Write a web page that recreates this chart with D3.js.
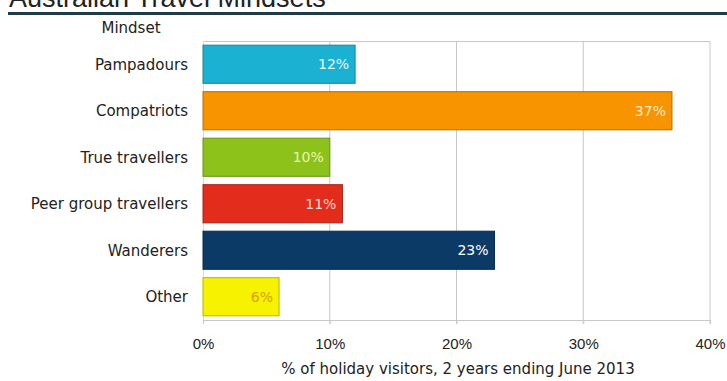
<!DOCTYPE html>
<html>
<head>
<meta charset="utf-8">
<script src="https://cdn.jsdelivr.net/npm/d3@7"></script>
<style>
  body { margin: 0; background: #fff; }
  svg { display: block; font-family: "DejaVu Sans", "Liberation Sans", sans-serif; }
</style>
</head>
<body>
<script>
// data
const categories = ["Pampadours", "Compatriots", "True travellers", "Peer group travellers", "Wanderers", "Other"];
const shares = [12, 37, 10, 11, 23, 6];
const barColors = ["#1bb1d2", "#f79400", "#8dc21a", "#e42c1c", "#0b3a66", "#f6f200"];
const labelColors = ["#e8f8ff", "#ffe9c4", "#e9f5b0", "#ffd8d0", "#ffffff", "#d4a400"];
const xTicks = [0, 10, 20, 30, 40];

const width = 727, height = 381;
const margin = { top: 41, right: 17, bottom: 61, left: 203 };

const svg = d3.select("body").append("svg")
    .attr("width", width)
    .attr("height", height);

// 标题（顶部被截断）
svg.append("text")
    .attr("x", 9).attr("y", 7)
    .attr("font-family", "Liberation Sans, Arial, sans-serif")
    .attr("font-size", 27)
    .attr("fill", "#222")
    .text("Australian Travel Mindsets");

svg.append("rect")
    .attr("x", 8).attr("y", 12)
    .attr("width", width - 8).attr("height", 3)
    .attr("fill", "#1d3c4a");

const x = d3.scaleLinear().domain([0, 40]).range([margin.left, width - margin.right]);
const y = d3.scaleBand().domain(categories).range([margin.top, height - margin.bottom]).paddingInner(0.18).paddingOuter(0.09);

const chart = svg.append("g").attr("class", "chart");

// 网格线
chart.append("g").selectAll("line").data(xTicks.slice(1)).join("line")
    .attr("x1", d => x(d)).attr("x2", d => x(d))
    .attr("y1", margin.top).attr("y2", height - margin.bottom + 4)
    .attr("stroke", "#c8c8c8");

chart.append("line")
    .attr("x1", x(0)).attr("x2", x(40))
    .attr("y1", margin.top + 0.5).attr("y2", margin.top + 0.5)
    .attr("stroke", "#c8c8c8");

// x轴
const gx = chart.append("g")
    .attr("transform", `translate(0,${height - margin.bottom})`)
    .call(d3.axisBottom(x).tickValues(xTicks).tickFormat(d => d + "%").tickSize(4).tickSizeOuter(0).tickPadding(14));
gx.select(".domain").attr("stroke", "#c8c8c8");
gx.selectAll(".tick line").attr("stroke", "#c8c8c8");
gx.selectAll(".tick text").attr("font-size", 15).attr("fill", "#222").attr("font-family", "inherit");

// y轴线
chart.append("line")
    .attr("x1", x(0) + 0.5).attr("x2", x(0) + 0.5)
    .attr("y1", margin.top).attr("y2", height - margin.bottom)
    .attr("stroke", "#d8d8d8");

// 柱
chart.append("g").selectAll("rect").data(categories).join("rect")
    .attr("x", x(0))
    .attr("y", d => y(d))
    .attr("width", (d, i) => x(shares[i]) - x(0))
    .attr("height", y.bandwidth())
    .attr("fill", (d, i) => barColors[i])
    .attr("stroke", (d, i) => d3.color(barColors[i]).darker(0.8))
    .attr("stroke-width", 1);

// 数值标签
chart.append("g").selectAll("text").data(categories).join("text")
    .attr("x", (d, i) => x(shares[i]) - 6)
    .attr("y", d => y(d) + y.bandwidth() / 2)
    .attr("dy", "0.35em")
    .attr("text-anchor", "end")
    .attr("font-size", 14)
    .attr("fill", (d, i) => labelColors[i])
    .text((d, i) => shares[i] + "%");

// 类别标签
chart.append("g").selectAll("text").data(categories).join("text")
    .attr("x", margin.left - 15)
    .attr("y", d => y(d) + y.bandwidth() / 2)
    .attr("dy", "0.35em")
    .attr("text-anchor", "end")
    .attr("font-size", 15)
    .attr("fill", "#222")
    .text(d => d);

svg.append("text")
    .attr("x", 131).attr("y", 33)
    .attr("text-anchor", "middle")
    .attr("font-size", 15)
    .attr("fill", "#222")
    .text("Mindset");

svg.append("text")
    .attr("x", 458).attr("y", 374)
    .attr("text-anchor", "middle")
    .attr("font-size", 15)
    .attr("fill", "#222")
    .text("% of holiday visitors, 2 years ending June 2013");
</script>
</body>
</html>
